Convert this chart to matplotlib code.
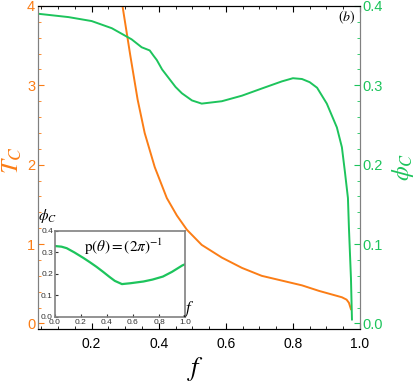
import numpy as np
import matplotlib
matplotlib.use('Agg')
import matplotlib.pyplot as plt
from matplotlib.ticker import MultipleLocator

plt.rcParams['font.family'] = ['Liberation Sans', 'DejaVu Sans']
plt.rcParams['mathtext.fontset'] = 'stix'

# critical temperature T_C vs f (left axis)
f_T = [0.290, 0.315, 0.337, 0.358, 0.388, 0.424, 0.454, 0.484, 0.528, 0.588,
       0.648, 0.707, 0.767, 0.827, 0.878, 0.946, 0.960, 0.967, 0.973]
T_c = [4.05, 3.38, 2.82, 2.40, 1.97, 1.58, 1.36, 1.18, 0.99, 0.83,
       0.70, 0.60, 0.54, 0.48, 0.41, 0.33, 0.30, 0.26, 0.18]

# critical density phi_C vs f (right axis)
f_phi = [0.045, 0.131, 0.200, 0.260, 0.319, 0.349, 0.373, 0.385, 0.394, 0.410,
         0.430, 0.450, 0.469, 0.499, 0.528, 0.588, 0.648, 0.707, 0.767, 0.800,
         0.827, 0.850, 0.872, 0.901, 0.931, 0.946, 0.955, 0.964, 0.967, 0.973, 0.976]
phi_c = [0.390, 0.386, 0.381, 0.372, 0.358, 0.348, 0.344, 0.337, 0.332, 0.320,
         0.309, 0.298, 0.290, 0.281, 0.277, 0.280, 0.287, 0.296, 0.305, 0.309,
         0.308, 0.304, 0.297, 0.277, 0.247, 0.222, 0.191, 0.158, 0.120, 0.057, 0.005]

# inset: uniform p(theta)
f_in = [0.0, 0.05, 0.09, 0.15, 0.22, 0.27, 0.32, 0.37, 0.42, 0.46, 0.515,
        0.58, 0.68, 0.75, 0.83, 0.90, 0.98, 1.0]
phi_in = [0.330, 0.327, 0.320, 0.300, 0.274, 0.254, 0.233, 0.210, 0.186, 0.168, 0.153,
          0.157, 0.165, 0.174, 0.188, 0.210, 0.240, 0.245]

orange = '#fb7d16'
green = '#1dc45c'
grey = '#808080'

fig = plt.figure(figsize=(4.15, 3.84), dpi=100)
ax = fig.add_axes([0.0916, 0.1432, 0.7759, 0.8412])
ax2 = ax.twinx()

ax.plot(f_T, T_c, color=orange, lw=1.4, zorder=3)
ax2.plot(f_phi, phi_c, color=green, lw=1.4)

ax.set_xlim(0.04, 1.0)
ax.set_ylim(-0.07, 4.0)
ax2.set_ylim(-0.007, 0.4)

ax.xaxis.set_major_locator(MultipleLocator(0.2))
ax.xaxis.set_minor_locator(MultipleLocator(0.05))
ax.yaxis.set_major_locator(MultipleLocator(1))
ax.yaxis.set_minor_locator(MultipleLocator(0.2))
ax2.yaxis.set_major_locator(MultipleLocator(0.1))
ax2.yaxis.set_minor_locator(MultipleLocator(0.02))
ax2.set_yticks([0.0, 0.1, 0.2, 0.3, 0.4])
ax2.set_yticklabels(['0.0', '0.1', '0.2', '0.3', '0.4'])

ax.tick_params(axis='x', which='both', direction='in', top=True, labelsize=10, pad=6)
ax.tick_params(axis='x', which='major', length=4)
ax.tick_params(axis='x', which='minor', length=2)
ax.tick_params(axis='y', which='both', direction='in', colors=orange, labelsize=10.5, pad=2)
ax.tick_params(axis='y', which='major', length=4)
ax.tick_params(axis='y', which='minor', length=2)
ax2.tick_params(axis='y', which='both', direction='in', colors=green, labelsize=10.5, pad=2)
ax2.tick_params(axis='y', which='major', length=4)
ax2.tick_params(axis='y', which='minor', length=2)

for a in (ax, ax2):
    a.spines['left'].set_color(grey)
    a.spines['right'].set_color(grey)
    a.spines['top'].set_color('black')
    a.spines['bottom'].set_color('black')

ax.text(0.96, 0.966, r'$(b)$', transform=ax.transAxes, ha='center', va='center', fontsize=10)

fig.text(0.03, 0.583, r'$T_C$', color=orange, rotation=90, ha='center', va='center', fontsize=18)
fig.text(0.972, 0.565, r'$\phi_C$', color=green, rotation=90, ha='center', va='center', fontsize=17)
fig.text(0.47, 0.038, r'$f$', ha='center', va='center', fontsize=19)

# inset
axin = fig.add_axes([0.1325, 0.1745, 0.3133, 0.224])
axin.plot(f_in, phi_in, color=green, lw=1.6)
axin.set_xlim(0, 1)
axin.set_ylim(0, 0.4)
axin.xaxis.set_major_locator(MultipleLocator(0.2))
axin.yaxis.set_major_locator(MultipleLocator(0.1))
axin.tick_params(which='both', direction='in', labelsize=6, length=2, pad=1.5, colors='#333333')
axin.tick_params(axis='x', pad=1.5)
for s in axin.spines.values():
    s.set_color(grey)
    s.set_linewidth(1.2)
axin.text(0.53, 0.82, r'$\mathrm{p}(\theta) = (2\pi)^{-1}$', transform=axin.transAxes,
          ha='center', va='center', fontsize=11)
fig.text(47 / 415, 1 - 216 / 384, r'$\phi_C$', ha='center', va='center', fontsize=11)
fig.text(189 / 415, 1 - 309 / 384, r'$f$', ha='center', va='center', fontsize=12)

fig.savefig('out.png', dpi=100)
